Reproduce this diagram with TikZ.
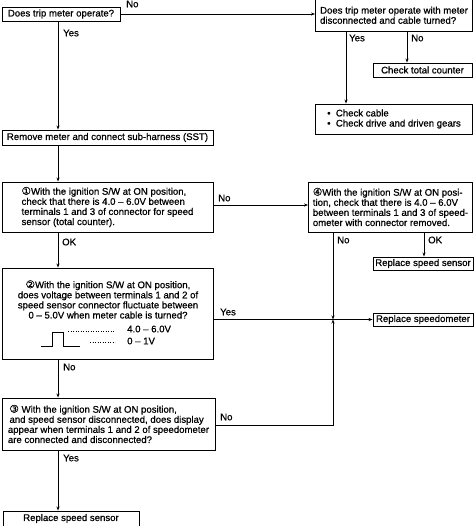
\documentclass[tikz,border=0pt]{standalone}
\usepackage{fontspec}
\setmainfont{Liberation Sans}[FakeBold=0.7]
\newfontfamily\djv{DejaVu Sans}[FakeBold=0.7]
\newcommand{\cn}[1]{{\djv\fontsize{10.5}{10}\selectfont #1}}
\usetikzlibrary{arrows.meta}
\begin{document}
\begin{tikzpicture}[x=1pt,y=-1pt,
  every node/.style={font=\fontsize{9.6}{10.1}\selectfont},
  box/.style={draw,line width=0.9pt,rectangle,inner sep=1pt},
  lbl/.style={inner sep=0pt,anchor=west},
  arr/.style={line width=0.7pt,-{Stealth[length=4pt,width=3pt]}},
  ln/.style={line width=0.7pt}]
\useasboundingbox (0,0) rectangle (474,526);
\fill[white] (0,0) rectangle (474,526);
% column coordinates
\coordinate (xl) at (58,0);
\coordinate (xy) at (346,0);
\coordinate (xn) at (407,0);
\coordinate (xk) at (424,0);
\coordinate (xj) at (333,0);
\coordinate (yb) at (0,205);
\coordinate (yc) at (0,425);
% boxes
\node[box,minimum width=118pt,minimum height=14pt,align=center] (q0) at (61,14) {Does trip meter operate?};
\node[box,minimum width=157pt,minimum height=31.5pt,align=left] (q1) at (394,15.25) {Does trip meter operate with meter\\disconnected and cable turned?};
\node[box,minimum width=99pt,minimum height=14pt,align=center] (ctc) at (422.5,70) {Check total counter};
\node[box,minimum width=157pt,minimum height=30pt,align=left] (chk) at (394,119) {\textbullet\ \ Check cable\\\textbullet\ \ Check drive and driven gears};
\node[box,minimum width=211pt,minimum height=15pt,align=left] (rm) at (107.5,137.5) {Remove meter and connect sub-harness (SST)};
\node[box,minimum width=211pt,minimum height=50pt,align=left] (b1) at (107.5,207) {\cn{①}With the ignition S/W at ON position,\\check that there is 4.0 -- 6.0V between\\terminals 1 and 3 of connector for speed\\sensor (total counter).};
\node[box,minimum width=164pt,minimum height=50pt,align=left] (b4) at (390.5,207) {\cn{④}With the ignition S/W at ON posi-\\tion, check that there is 4.0 -- 6.0V\\between terminals 1 and 3 of speed-\\ometer with connector removed.};
\node[box,minimum width=100pt,minimum height=13pt,align=center] (rss1) at (423,263.5) {Replace speed sensor};
\node[box,minimum width=100pt,minimum height=13pt,align=center] (rsp) at (423,319.5) {Replace speedometer};
\node[box,minimum width=211pt,minimum height=91pt] (b2) at (107.5,313.5) {};
\node[align=center,inner sep=0pt] (b2t) at (108,299.5) {\cn{②}With the ignition S/W at ON position,\\does voltage between terminals 1 and 2 of\\speed sensor connector fluctuate between\\0 -- 5.0V when meter cable is turned?};
\node[box,minimum width=213pt,minimum height=52pt,align=left] (b3) at (108.5,424) {\,\cn{③} With the ignition S/W at ON position,\\\,and speed sensor disconnected, does display\\appear when terminals 1 and 2 of speedometer\\are connected and disconnected?};
\node[box,minimum width=136pt,minimum height=15pt,align=center] (rss2) at (71,518.5) {Replace speed sensor};
% waveform in box 2
\draw[ln] (41,346) -- (52,346) -- (52,332) -- (63,332) -- (63,346) -- (80,346);
\draw[line width=0.5pt,dotted] (68,331) -- (115,331);
\draw[line width=0.5pt,dotted] (90,342) -- (115,342);
\node[lbl] (vh) at (127,329) {4.0 -- 6.0V};
\node[lbl] (vl) at (127,341) {0 -- 1V};
% connectors
\draw[arr] (q0.east) -- (q0.east -| q1.west);
\draw[arr] (q0.south -| xl) -- (rm.north -| xl);
\draw[arr] (q1.south -| xy) -- (chk.north -| xy);
\draw[arr] (q1.south -| xn) -- (ctc.north -| xn);
\draw[arr] (rm.south -| xl) -- (b1.north -| xl);
\draw[arr] (b1.east |- yb) -- (b4.west |- yb);
\draw[arr] (b1.south -| xl) -- (b2.north -| xl);
\draw[arr] (b4.south -| xk) -- (rss1.north -| xk);
\draw[arr] (b4.south -| xj) -- (rsp.west -| xj);
\draw[arr] (b2.east |- rsp.west) -- (rsp.west);
\draw[arr] (b2.south -| xl) -- (b3.north -| xl);
\draw[arr] (b3.east |- yc) -- (yc -| xj) -- (rsp.west -| xj);
\draw[arr] (b3.south -| xl) -- (rss2.north -| xl);
% labels
\node[lbl] (l1) at (126,4) {No};
\node[lbl] (l2) at (63,33) {Yes};
\node[lbl] (l3) at (349,38) {Yes};
\node[lbl] (l4) at (411,38) {No};
\node[lbl] (l5) at (218,198) {No};
\node[lbl] (l6) at (62,242) {OK};
\node[lbl] (l7) at (337,240) {No};
\node[lbl] (l8) at (428,240) {OK};
\node[lbl] (l9) at (220,312) {Yes};
\node[lbl] (l10) at (63,367) {No};
\node[lbl] (l11) at (220,417) {No};
\node[lbl] (l12) at (63,458) {Yes};
\end{tikzpicture}
\end{document}
